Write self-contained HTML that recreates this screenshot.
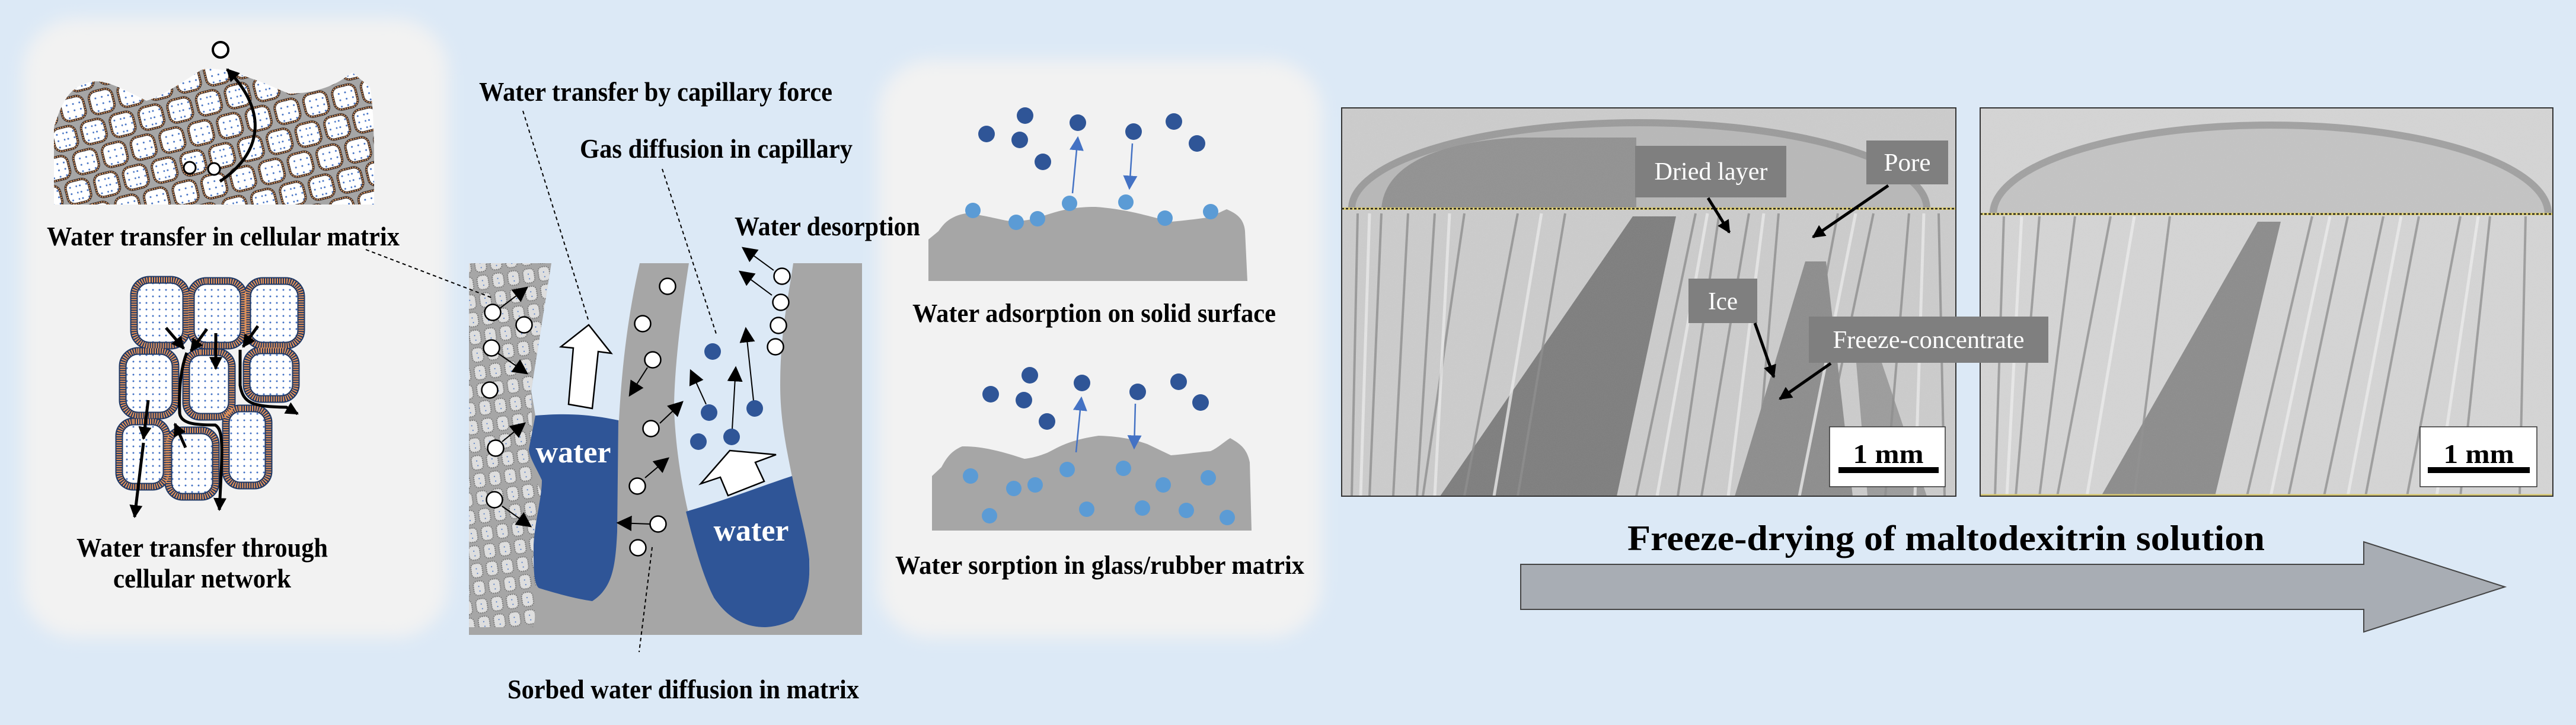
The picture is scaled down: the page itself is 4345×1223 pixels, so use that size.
<!DOCTYPE html>
<html><head><meta charset="utf-8"><style>
html,body{margin:0;padding:0;background:#dce9f6;}
svg{display:block;}
text{font-family:"Liberation Serif",serif;font-weight:bold;}
</style></head><body>
<svg width="4345" height="1223" viewBox="0 0 4345 1223" xmlns="http://www.w3.org/2000/svg">
<defs>
<filter id="blur" x="-10%" y="-10%" width="120%" height="120%"><feGaussianBlur stdDeviation="14"/></filter>
<filter id="nz" x="0" y="0" width="100%" height="100%"><feTurbulence type="fractalNoise" baseFrequency="0.9" numOctaves="1" seed="3"/><feColorMatrix type="matrix" values="0 0 0 0 0.5  0 0 0 0 0.5  0 0 0 0 0.5  0 0 0 0.35 0"/></filter>
<pattern id="dots" width="11" height="11" patternUnits="userSpaceOnUse"><rect width="11" height="11" fill="#fff"/><circle cx="5" cy="5" r="1.5" fill="#4472c4"/></pattern>
<pattern id="cells" width="50" height="92" patternUnits="userSpaceOnUse" patternTransform="rotate(-14)">
<rect width="50" height="92" fill="#a6a6a6"/>
<rect x="5" y="4" width="40" height="39" rx="12" fill="url(#dots)" stroke="#3a2e2a" stroke-width="4"/>
<rect x="5" y="4" width="40" height="39" rx="12" fill="none" stroke="#f0a468" stroke-width="2" stroke-dasharray="2 2"/>
<rect x="-20" y="50" width="40" height="39" rx="12" fill="url(#dots)" stroke="#3a2e2a" stroke-width="4"/>
<rect x="-20" y="50" width="40" height="39" rx="12" fill="none" stroke="#f0a468" stroke-width="2" stroke-dasharray="2 2"/>
<rect x="30" y="50" width="40" height="39" rx="12" fill="url(#dots)" stroke="#3a2e2a" stroke-width="4"/>
<rect x="30" y="50" width="40" height="39" rx="12" fill="none" stroke="#f0a468" stroke-width="2" stroke-dasharray="2 2"/>
</pattern>
<pattern id="pcells" width="26" height="30" patternUnits="userSpaceOnUse" patternTransform="rotate(-8)">
<rect width="26" height="30" fill="#a6a6a6"/>
<rect x="3" y="3" width="19" height="24" rx="7" fill="#dedede" stroke="#7a7a7a" stroke-width="2" stroke-dasharray="2 1.5"/>
<circle cx="12" cy="12" r="1" fill="#4472c4"/><circle cx="13" cy="20" r="1" fill="#4472c4"/>
</pattern>
<marker id="ah" viewBox="0 0 10 10" refX="9" refY="5" markerWidth="26" markerHeight="26" markerUnits="userSpaceOnUse" orient="auto"><path d="M0,0L10,5L0,10z" fill="#000"/></marker>
<marker id="ah2" viewBox="0 0 10 10" refX="9" refY="5" markerWidth="22" markerHeight="22" markerUnits="userSpaceOnUse" orient="auto"><path d="M0,0L10,5L0,10z" fill="#000"/></marker>
<marker id="ab" viewBox="0 0 10 10" refX="9" refY="5" markerWidth="24" markerHeight="24" markerUnits="userSpaceOnUse" orient="auto"><path d="M0,0L10,5L0,10z" fill="#4472c4"/></marker>
<clipPath id="c1"><rect x="2263" y="182" width="1036" height="655"/></clipPath>
<clipPath id="c2"><rect x="3340" y="182" width="966" height="655"/></clipPath>
</defs>

<rect x="38" y="31" width="718" height="1045" rx="90" fill="#f2f2f2" filter="url(#blur)"/>
<rect x="1481" y="101" width="749" height="975" rx="90" fill="#f2f2f2" filter="url(#blur)"/>

<!-- top cellular cluster -->
<path d="M91,215 C105,170 118,145 154,138 C175,134 198,145 247,170 C265,165 287,153 339,118 C360,112 387,118 450,142 L487,158 C520,158 561,150 594,122 L624,147 C632,190 631,260 631,345 L91,345 Z" fill="url(#cells)"/>
<path d="M371,306 C440,260 455,190 383,117" fill="none" stroke="#000" stroke-width="5" marker-end="url(#ah2)"/>
<circle cx="372" cy="84" r="13" fill="#fff" stroke="#000" stroke-width="4"/>
<circle cx="320" cy="283" r="10" fill="#fff" stroke="#000" stroke-width="3"/>
<circle cx="361" cy="285" r="10" fill="#fff" stroke="#000" stroke-width="3"/>
<text x="79" y="414" font-size="46" textLength="595" lengthAdjust="spacingAndGlyphs">Water transfer in cellular matrix</text>

<!-- cellular network -->
<g stroke-linejoin="round">
<g fill="url(#dots)" stroke="#1f3864" stroke-width="13">
<rect x="226" y="472" width="88" height="111" rx="26"/>
<rect x="322" y="474" width="89" height="109" rx="26"/>
<rect x="417" y="474" width="91" height="109" rx="26"/>
<rect x="207" y="592" width="89" height="109" rx="26"/>
<rect x="314" y="594" width="77" height="109" rx="24"/>
<rect x="416" y="591" width="83" height="82" rx="24"/>
<rect x="201" y="711" width="80" height="110" rx="24"/>
<rect x="284" y="726" width="80" height="112" rx="24"/>
<rect x="381" y="689" width="72" height="130" rx="24"/>
</g>
<g fill="none" stroke="#e8955a" stroke-width="9" stroke-dasharray="2 2">
<rect x="226" y="472" width="88" height="111" rx="26"/>
<rect x="322" y="474" width="89" height="109" rx="26"/>
<rect x="417" y="474" width="91" height="109" rx="26"/>
<rect x="207" y="592" width="89" height="109" rx="26"/>
<rect x="314" y="594" width="77" height="109" rx="24"/>
<rect x="416" y="591" width="83" height="82" rx="24"/>
<rect x="201" y="711" width="80" height="110" rx="24"/>
<rect x="284" y="726" width="80" height="112" rx="24"/>
<rect x="381" y="689" width="72" height="130" rx="24"/>
</g>
</g>
<g fill="none" stroke="#000" stroke-width="5">
<line x1="280" y1="553" x2="310" y2="588" marker-end="url(#ah2)"/>
<line x1="349" y1="555" x2="322" y2="592" marker-end="url(#ah2)"/>
<line x1="364" y1="562" x2="364" y2="622" marker-end="url(#ah2)"/>
<line x1="435" y1="550" x2="410" y2="585" marker-end="url(#ah2)"/>
<path d="M315,595 C302,630 302,670 303,697 C305,715 330,717 363,717 C378,725 375,760 370,860" marker-end="url(#ah2)"/>
<path d="M405,590 L405,650 C410,680 425,686 483,687 L502,698" marker-end="url(#ah2)"/>
<line x1="250" y1="675" x2="242" y2="740" marker-end="url(#ah2)"/>
<line x1="242" y1="747" x2="227" y2="872" marker-end="url(#ah2)"/>
<line x1="313" y1="755" x2="295" y2="715" marker-end="url(#ah2)"/>
</g>
<text x="341" y="939" font-size="46" text-anchor="middle" textLength="424" lengthAdjust="spacingAndGlyphs">Water transfer through</text>
<text x="341" y="991" font-size="46" text-anchor="middle" textLength="300" lengthAdjust="spacingAndGlyphs">cellular network</text>

<!-- capillary diagram -->
<rect x="791" y="444" width="663" height="627" fill="#a6a6a6"/>
<path d="M791,444 L930,444 L896,659 L899,800 L914,832 L908,870 L902,1045 L900,1058 L791,1058 Z" fill="url(#pcells)"/>
<path d="M930,444 L1079,444 C1062,520 1050,600 1044,709 L903,701 L896,659 Z" fill="#dce9f6"/>
<path d="M903,701 C960,696 1000,700 1043,709 L1041,897 C1038,960 1032,992 999,1014 C970,1010 935,1000 909,992 C900,985 900,960 900,919 C902,880 914,840 914,810 C905,790 892,770 892,758 Z" fill="#2f5597"/>
<path d="M1162,444 C1150,520 1137,620 1137,691 C1140,760 1150,820 1164,878 C1180,940 1195,990 1204,1008 C1220,1035 1255,1058 1289,1058 C1320,1055 1338,1045 1352,1020 C1365,990 1367,960 1365,943 C1355,880 1340,830 1336,804 C1325,750 1316,704 1316,650 C1316,560 1330,500 1338,444 Z" fill="#dce9f6"/>
<path d="M1157,863 C1220,845 1290,818 1336,803 C1345,850 1360,900 1365,943 C1367,990 1360,1010 1338,1045 C1320,1055 1300,1058 1289,1058 C1255,1058 1225,1040 1204,1008 C1185,970 1170,915 1157,863 Z" fill="#2f5597"/>
<text x="967" y="780" font-size="52" fill="#fff" text-anchor="middle">water</text>
<text x="1267" y="912" font-size="52" fill="#fff" text-anchor="middle">water</text>
<polygon points="959,682 999,689 1009,593 1031,596 993,548 946,585 967,587" fill="#fff" stroke="#000" stroke-width="2.5"/>
<polygon points="1228,836 1289,812 1274,780 1309,767 1231,760 1182,816 1215,805" fill="#fff" stroke="#000" stroke-width="2.5"/>
<g stroke="#000" stroke-width="2" fill="none">
<line x1="842" y1="521" x2="889" y2="485" marker-end="url(#ah)"/>
<line x1="840" y1="596" x2="889" y2="630" marker-end="url(#ah)"/>
<line x1="847" y1="745" x2="885" y2="714" marker-end="url(#ah)"/>
<line x1="847" y1="854" x2="895" y2="888" marker-end="url(#ah)"/>
<line x1="1092" y1="620" x2="1062" y2="667" marker-end="url(#ah)"/>
<line x1="1113" y1="714" x2="1151" y2="678" marker-end="url(#ah)"/>
<line x1="1088" y1="806" x2="1127" y2="773" marker-end="url(#ah)"/>
<line x1="1097" y1="884" x2="1042" y2="882" marker-end="url(#ah)"/>
<line x1="1305" y1="456" x2="1253" y2="418" marker-end="url(#ah)"/>
<line x1="1302" y1="498" x2="1248" y2="458" marker-end="url(#ah)"/>
<line x1="1191" y1="682" x2="1165" y2="625" marker-end="url(#ah)"/>
<line x1="1235" y1="724" x2="1241" y2="620" marker-end="url(#ah)"/>
<line x1="1271" y1="676" x2="1258" y2="554" marker-end="url(#ah)"/>
</g>
<g fill="#fff" stroke="#000" stroke-width="2.5">
<circle cx="831" cy="527" r="13.5"/><circle cx="884" cy="548" r="13.5"/><circle cx="829" cy="587" r="13.5"/>
<circle cx="826" cy="658" r="13.5"/><circle cx="836" cy="756" r="13.5"/><circle cx="834" cy="843" r="13.5"/>
<circle cx="1126" cy="483" r="13.5"/><circle cx="1084" cy="546" r="13.5"/><circle cx="1101" cy="607" r="13.5"/>
<circle cx="1098" cy="723" r="13.5"/><circle cx="1075" cy="820" r="13.5"/><circle cx="1110" cy="884" r="13.5"/>
<circle cx="1076" cy="924" r="13.5"/><circle cx="1319" cy="466" r="13.5"/><circle cx="1317" cy="510" r="13.5"/>
<circle cx="1313" cy="549" r="13.5"/><circle cx="1308" cy="585" r="13.5"/>
</g>
<g fill="#2f5597">
<circle cx="1202" cy="593" r="14"/><circle cx="1196" cy="696" r="14"/><circle cx="1273" cy="689" r="14"/>
<circle cx="1178" cy="745" r="14"/><circle cx="1234" cy="737" r="14"/>
</g>
<g stroke="#000" stroke-width="2" stroke-dasharray="6 5" fill="none">
<line x1="617" y1="421" x2="829" y2="502"/>
<line x1="882" y1="187" x2="992" y2="539"/>
<line x1="1117" y1="285" x2="1208" y2="563"/>
<line x1="1100" y1="923" x2="1078" y2="1100"/>
</g>
<text x="808" y="170" font-size="46" textLength="596" lengthAdjust="spacingAndGlyphs">Water transfer by capillary force</text>
<text x="978" y="266" font-size="46" textLength="460" lengthAdjust="spacingAndGlyphs">Gas diffusion in capillary</text>
<text x="1239" y="397" font-size="46" textLength="313" lengthAdjust="spacingAndGlyphs">Water desorption</text>
<text x="856" y="1178" font-size="46" textLength="593" lengthAdjust="spacingAndGlyphs">Sorbed water diffusion in matrix</text>

<!-- adsorption panels -->
<path d="M1566,404 L1583,390 C1590,380 1600,365 1629,360 C1660,362 1690,372 1705,373 C1730,373 1740,370 1751,367 C1780,358 1800,349 1848,349 C1890,352 1920,360 1940,365 L1975,374 C2000,372 2020,369 2037,367 C2050,362 2060,357 2069,353 C2085,360 2098,368 2100,390 L2104,474 L1566,474 Z" fill="#a6a6a6"/>
<g fill="#2f5597">
<circle cx="1664" cy="226" r="14"/><circle cx="1729" cy="195" r="14"/><circle cx="1720" cy="236" r="14"/><circle cx="1759" cy="273" r="14"/>
<circle cx="1818" cy="207" r="14"/><circle cx="1912" cy="222" r="14"/><circle cx="1980" cy="205" r="14"/><circle cx="2019" cy="242" r="14"/>
</g>
<g fill="#5b9bd5">
<circle cx="1641" cy="355" r="13"/><circle cx="1714" cy="375" r="13"/><circle cx="1750" cy="369" r="13"/><circle cx="1804" cy="343" r="13"/>
<circle cx="1899" cy="341" r="13"/><circle cx="1965" cy="368" r="13"/><circle cx="2042" cy="357" r="13"/>
</g>
<g stroke="#4472c4" stroke-width="2.5">
<line x1="1809" y1="326" x2="1818" y2="232" marker-end="url(#ab)"/>
<line x1="1910" y1="242" x2="1905" y2="318" marker-end="url(#ab)"/>
</g>
<text x="1539" y="543" font-size="44" textLength="613" lengthAdjust="spacingAndGlyphs">Water adsorption on solid surface</text>

<path d="M1572,803 L1588,788 C1595,775 1603,761 1623,753 C1660,752 1700,765 1728,774 C1745,772 1755,768 1766,764 C1785,755 1800,743 1853,735 C1890,736 1915,742 1935,749 L1975,768 C2000,766 2020,763 2042,761 C2055,755 2065,745 2075,739 C2090,748 2103,755 2108,780 L2111,895 L1572,895 Z" fill="#a6a6a6"/>
<g fill="#2f5597">
<circle cx="1671" cy="665" r="14"/><circle cx="1737" cy="633" r="14"/><circle cx="1727" cy="675" r="14"/><circle cx="1766" cy="711" r="14"/>
<circle cx="1825" cy="646" r="14"/><circle cx="1919" cy="661" r="14"/><circle cx="1988" cy="644" r="14"/><circle cx="2025" cy="679" r="14"/>
</g>
<g fill="#5b9bd5">
<circle cx="1637" cy="803" r="13"/><circle cx="1710" cy="824" r="13"/><circle cx="1746" cy="818" r="13"/><circle cx="1800" cy="792" r="13"/>
<circle cx="1895" cy="790" r="13"/><circle cx="1962" cy="818" r="13"/><circle cx="2038" cy="806" r="13"/><circle cx="1669" cy="870" r="13"/>
<circle cx="1833" cy="859" r="13"/><circle cx="1927" cy="857" r="13"/><circle cx="2001" cy="861" r="13"/><circle cx="2070" cy="873" r="13"/>
</g>
<g stroke="#4472c4" stroke-width="2.5">
<line x1="1815" y1="763" x2="1824" y2="671" marker-end="url(#ab)"/>
<line x1="1915" y1="681" x2="1913" y2="756" marker-end="url(#ab)"/>
</g>
<text x="1510" y="968" font-size="44" textLength="690" lengthAdjust="spacingAndGlyphs">Water sorption in glass/rubber matrix</text>

<!-- CT image 1 -->
<g clip-path="url(#c1)">
<rect x="2263" y="182" width="1036" height="655" fill="#cdcdcd"/>
<path d="M2275,352 A490,150 0 0 1 3255,352 Z" fill="#b8b8b8"/>
<path d="M2330,352 C2335,280 2420,240 2560,232 L2760,232 L2760,352 Z" fill="#8f8f8f"/>
<path d="M2280,352 A485,145 0 0 1 3250,352" fill="none" stroke="#999" stroke-width="12"/>
<polygon points="2754,365 2827,365 2727,837 2429,837" fill="#7a7a7a"/>
<polygon points="3045,441 3080,441 3125,837 2926,837" fill="#8a8a8a"/>
<polygon points="3130,600 3170,600 3250,837 3150,837" fill="#9a9a9a"/>
<g stroke="#8a8a8a" stroke-width="4" opacity="0.8">
<line x1="2290" y1="360" x2="2280" y2="837"/><line x1="2330" y1="360" x2="2310" y2="837"/>
<line x1="2375" y1="360" x2="2350" y2="837"/><line x1="2420" y1="360" x2="2390" y2="837"/>
<line x1="2470" y1="360" x2="2400" y2="837"/><line x1="2560" y1="360" x2="2470" y2="837"/>
<line x1="2640" y1="360" x2="2560" y2="837"/><line x1="2860" y1="360" x2="2760" y2="837"/>
<line x1="2900" y1="360" x2="2830" y2="837"/><line x1="2950" y1="360" x2="2870" y2="837"/>
<line x1="3000" y1="360" x2="2960" y2="837"/><line x1="3100" y1="360" x2="3010" y2="837"/>
<line x1="3160" y1="360" x2="3060" y2="837"/><line x1="3220" y1="360" x2="3180" y2="837"/>
<line x1="3270" y1="360" x2="3280" y2="837"/>
</g>
<g stroke="#eeeeee" stroke-width="5" opacity="0.8">
<line x1="2310" y1="360" x2="2295" y2="837"/><line x1="2445" y1="360" x2="2420" y2="837"/>
<line x1="2600" y1="360" x2="2520" y2="837"/><line x1="2880" y1="360" x2="2795" y2="837"/>
<line x1="2975" y1="360" x2="2915" y2="837"/><line x1="3130" y1="360" x2="3035" y2="837"/>
<line x1="3245" y1="360" x2="3230" y2="837"/>
</g>
<rect x="2263" y="182" width="1036" height="655" filter="url(#nz)" opacity="0.6"/>
<line x1="2263" y1="352" x2="3299" y2="352" stroke="#e0d070" stroke-width="4"/>
<line x1="2263" y1="352" x2="3299" y2="352" stroke="#222" stroke-width="2.5" stroke-dasharray="4 3"/>
</g>
<rect x="2263" y="182" width="1036" height="655" fill="none" stroke="#333" stroke-width="2"/>

<!-- CT image 2 -->
<g clip-path="url(#c2)">
<rect x="3340" y="182" width="966" height="655" fill="#d6d6d6"/>
<path d="M3355,361 A475,155 0 0 1 4305,361 Z" fill="#c4c4c4"/>
<path d="M3362,361 A468,150 0 0 1 4298,361" fill="none" stroke="#a0a0a0" stroke-width="12"/>
<polygon points="3808,374 3847,374 3736,837 3544,837" fill="#8a8a8a"/>
<g stroke="#8e8e8e" stroke-width="4" opacity="0.8">
<line x1="3380" y1="365" x2="3365" y2="837"/><line x1="3440" y1="365" x2="3400" y2="837"/>
<line x1="3500" y1="365" x2="3440" y2="837"/><line x1="3560" y1="365" x2="3470" y2="837"/>
<line x1="3660" y1="365" x2="3600" y2="837"/><line x1="3900" y1="365" x2="3790" y2="837"/>
<line x1="3960" y1="365" x2="3860" y2="837"/><line x1="4020" y1="365" x2="3920" y2="837"/>
<line x1="4080" y1="365" x2="3990" y2="837"/><line x1="4150" y1="365" x2="4060" y2="837"/>
<line x1="4200" y1="365" x2="4150" y2="837"/><line x1="4260" y1="365" x2="4250" y2="837"/>
</g>
<g stroke="#f0f0f0" stroke-width="5" opacity="0.8">
<line x1="3410" y1="365" x2="3385" y2="837"/><line x1="3600" y1="365" x2="3520" y2="837"/>
<line x1="3930" y1="365" x2="3830" y2="837"/><line x1="4050" y1="365" x2="3960" y2="837"/>
<line x1="4180" y1="365" x2="4110" y2="837"/>
</g>
<rect x="3340" y="182" width="966" height="655" filter="url(#nz)" opacity="0.5"/>
<line x1="3340" y1="361" x2="4306" y2="361" stroke="#e0d070" stroke-width="4"/>
<line x1="3340" y1="361" x2="4306" y2="361" stroke="#222" stroke-width="2.5" stroke-dasharray="4 3"/>
<line x1="3340" y1="835" x2="4306" y2="835" stroke="#d8c870" stroke-width="3"/>
</g>
<rect x="3340" y="182" width="966" height="655" fill="none" stroke="#333" stroke-width="2"/>

<!-- labels on images -->
<g fill="#7f7f7f">
<rect x="2758" y="246" width="255" height="87"/>
<rect x="3148" y="237" width="138" height="74"/>
<rect x="2848" y="470" width="116" height="75"/>
<rect x="3051" y="534" width="404" height="78"/>
</g>
<g fill="#fff" text-anchor="middle" font-family="Liberation Serif" font-weight="normal">
<text x="2886" y="303" font-size="42" textLength="191" lengthAdjust="spacingAndGlyphs" style="font-weight:normal;font-family:'Liberation Serif',serif">Dried layer</text>
<text x="3217" y="288" font-size="42" textLength="79" lengthAdjust="spacingAndGlyphs" style="font-weight:normal;font-family:'Liberation Serif',serif">Pore</text>
<text x="2906" y="522" font-size="42" textLength="50" lengthAdjust="spacingAndGlyphs" style="font-weight:normal;font-family:'Liberation Serif',serif">Ice</text>
<text x="3253" y="587" font-size="42" textLength="323" lengthAdjust="spacingAndGlyphs" style="font-weight:normal;font-family:'Liberation Serif',serif">Freeze-concentrate</text>
</g>
<g stroke="#000" stroke-width="5">
<line x1="2881" y1="334" x2="2917" y2="392" marker-end="url(#ah2)"/>
<line x1="3185" y1="313" x2="3058" y2="400" marker-end="url(#ah2)"/>
<line x1="2960" y1="545" x2="2992" y2="636" marker-end="url(#ah2)"/>
<line x1="3088" y1="613" x2="3002" y2="673" marker-end="url(#ah2)"/>
</g>
<rect x="3086" y="720" width="195" height="101" fill="#fff" stroke="#333" stroke-width="1.5"/>
<text x="3185" y="781" font-size="46" text-anchor="middle" textLength="119" lengthAdjust="spacingAndGlyphs">1 mm</text>
<rect x="3101" y="788" width="169" height="10" fill="#000"/>
<rect x="4082" y="720" width="197" height="101" fill="#fff" stroke="#333" stroke-width="1.5"/>
<text x="4181" y="781" font-size="46" text-anchor="middle" textLength="119" lengthAdjust="spacingAndGlyphs">1 mm</text>
<rect x="4095" y="788" width="172" height="10" fill="#000"/>

<text x="2745" y="928" font-size="60" textLength="1075" lengthAdjust="spacingAndGlyphs">Freeze-drying of maltodexitrin solution</text>
<polygon points="2565,952 3987,952 3987,914 4225,990 3987,1066 3987,1028 2565,1028" fill="#a8adb4" stroke="#444" stroke-width="2"/>
</svg>
</body></html>
